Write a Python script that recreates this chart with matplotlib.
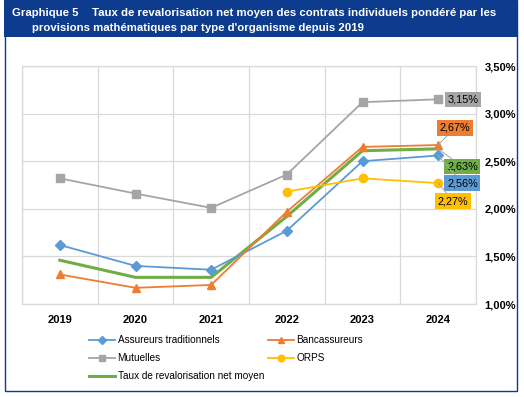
import matplotlib
matplotlib.use("Agg")
import matplotlib.pyplot as plt
from matplotlib.patches import Rectangle
from matplotlib.ticker import FixedLocator, FuncFormatter

plt.rcParams['font.family'] = ['Liberation Sans', 'DejaVu Sans']

years = ['2019', '2020', '2021', '2022', '2023', '2024']
assureurs = [1.62, 1.40, 1.36, 1.77, 2.50, 2.56]
bancass = [1.31, 1.17, 1.20, 1.97, 2.65, 2.67]
mutuelles = [2.32, 2.16, 2.01, 2.36, 3.12, 3.15]
orps = [None, None, None, 2.18, 2.32, 2.27]
moyen = [1.46, 1.28, 1.28, 1.92, 2.61, 2.63]
yticks = [1.0, 1.5, 2.0, 2.5, 3.0, 3.5]

c_ass = '#5B9BD5'
c_ban = '#ED7D31'
c_mut = '#A5A5A5'
c_orp = '#FFC000'
c_moy = '#70AD47'
navy = '#0D3C8F'

W, H = 524, 397
fig = plt.figure(figsize=(W / 100, H / 100), dpi=100)

# frame and title bar
fig.patches.append(Rectangle((5 / W, 6 / H), 512 / W, 391 / H, transform=fig.transFigure,
                             fill=False, edgecolor=navy, linewidth=1.0))
fig.patches.append(Rectangle((4 / W, 1 - 37 / H), 513 / W, 37 / H, transform=fig.transFigure,
                             facecolor=navy, edgecolor='none'))
fig.text(12 / W, 1 - 13 / H, "Graphique 5", color='white', fontsize=8.2, fontweight='bold', va='center')
fig.text(92 / W, 1 - 13 / H, "Taux de revalorisation net moyen des contrats individuels pondéré par les",
         color='white', fontsize=8.2, fontweight='bold', va='center')
fig.text(32 / W, 1 - 28 / H, "provisions mathématiques par type d'organisme depuis 2019",
         color='white', fontsize=8.2, fontweight='bold', va='center')

ax = fig.add_axes([22 / W, (H - 304) / H, 454 / W, 238 / H])
x = list(range(len(years)))

ax.plot(x, moyen, color=c_moy, linewidth=2.2, label='Taux de revalorisation net moyen', zorder=3)
ax.plot(x, assureurs, color=c_ass, linewidth=1.3, marker='D', markersize=5, label='Assureurs traditionnels', zorder=4)
ax.plot(x, bancass, color=c_ban, linewidth=1.3, marker='^', markersize=6, label='Bancassureurs', zorder=4)
ax.plot(x, mutuelles, color=c_mut, linewidth=1.3, marker='s', markersize=6, label='Mutuelles', zorder=4)
x_orps = [i for i, v in zip(x, orps) if v is not None]
v_orps = [v for v in orps if v is not None]
ax.plot(x_orps, v_orps, color=c_orp, linewidth=1.3, marker='o', markersize=6, label='ORPS', zorder=4)

ax.set_xlim(-0.5, 5.5)
ax.set_ylim(1.0, 3.5)
ax.yaxis.tick_right()
ax.set_yticks(yticks)
ax.yaxis.set_major_formatter(FuncFormatter(lambda v, p: f"{v:.2f}%".replace('.', ',')))
ax.set_xticks(x)
ax.set_xticklabels(years)
ax.xaxis.set_minor_locator(FixedLocator([i + 0.5 for i in range(-1, 6)]))
ax.tick_params(axis='both', which='both', length=0, labelsize=8)
ax.tick_params(axis='y', pad=6)
ax.tick_params(axis='x', pad=8)
for lab in ax.get_xticklabels() + ax.get_yticklabels():
    lab.set_fontweight('bold')
ax.grid(axis='y', which='major', color='#D9D9D9', linewidth=0.9)
ax.grid(axis='x', which='minor', color='#D9D9D9', linewidth=0.9)
for s in ax.spines.values():
    s.set_color('#D9D9D9')
    s.set_linewidth(0.9)

# data labels for 2024
labels = [
    (mutuelles[5], '3,15%', c_mut, (5.33, 3.15), False),
    (bancass[5], '2,67%', c_ban, (5.22, 2.85), True),
    (moyen[5], '2,63%', c_moy, (5.32, 2.445), True),
    (assureurs[5], '2,56%', c_ass, (5.32, 2.27), True),
    (orps[5], '2,27%', c_orp, (5.20, 2.08), True),
]
for val, txt, col, pos, leader in labels:
    ax.annotate(txt, xy=(5, val), xytext=pos, fontsize=7.8, ha='center', va='center',
                bbox=dict(boxstyle='square,pad=0.25', facecolor=col, edgecolor='none'),
                arrowprops=dict(arrowstyle='-', color='#A5A5A5', linewidth=0.7,
                                shrinkA=0, shrinkB=0) if leader else None,
                annotation_clip=False, zorder=6)

handles, labs = ax.get_legend_handles_labels()
# column-major fill: col 1 = Assureurs, Mutuelles, Taux ; col 2 = Bancassureurs, ORPS
order = [1, 3, 0, 2, 4]
fig.legend([handles[i] for i in order], [labs[i] for i in order], ncol=2,
           loc='upper left', bbox_to_anchor=(80 / W, 1 - 326 / H), frameon=False,
           fontsize=7.2, handlelength=2.6, handletextpad=0.25, columnspacing=0.4,
           labelspacing=0.8, markerscale=0.8)

fig.savefig('out.png', dpi=100)
